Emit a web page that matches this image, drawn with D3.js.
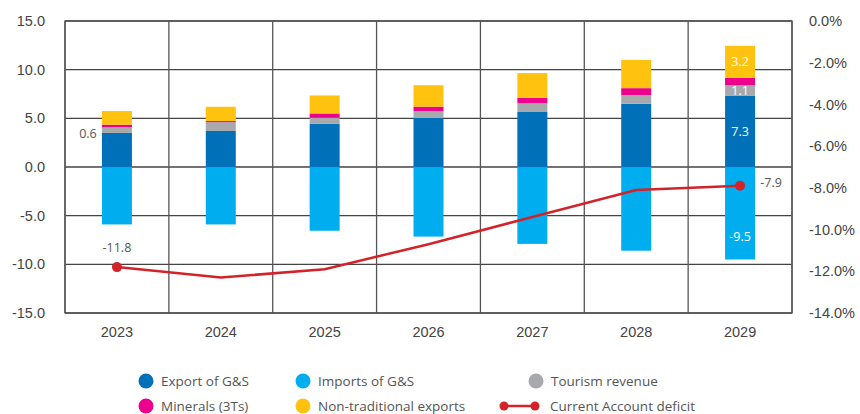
<!DOCTYPE html>
<html>
<head>
<meta charset="utf-8">
<script src="https://cdn.jsdelivr.net/npm/d3@7"></script>
<style>
  body { margin: 0; background: #fff; }
  svg { font-family: "Open Sans", "Noto Sans", sans-serif; }
</style>
</head>
<body>
<svg id="chart" width="860" height="414"></svg>
<script>
const years = ["2023", "2024", "2025", "2026", "2027", "2028", "2029"];
const exportsGS = [3.5, 3.7, 4.45, 5.05, 5.65, 6.5, 7.3];
const tourism = [0.6, 0.9, 0.6, 0.7, 0.9, 0.9, 1.1];
const minerals = [0.25, 0.12, 0.45, 0.45, 0.55, 0.7, 0.75];
const nonTrad = [1.4, 1.47, 1.85, 2.2, 2.55, 2.9, 3.3];
const importsGS = [-5.9, -5.9, -6.55, -7.15, -7.9, -8.6, -9.5];
const caDeficit = [-11.8, -12.3, -11.9, -10.7, -9.4, -8.1, -7.9];
const leftTicks = [15, 10, 5, 0, -5, -10, -15];
const rightTicks = [0, -2, -4, -6, -8, -10, -12, -14];

const colors = {
  exp: "#0070b8", imp: "#00aeef", tour: "#a7a9ac",
  min: "#ec008c", non: "#ffc20e", line: "#d2232a"
};

const margin = { top: 21, right: 68, bottom: 101, left: 65 };
const width = 860, height = 414;
const svg = d3.select("#chart");

const x = d3.scaleBand().domain(years).range([margin.left, width - margin.right]).paddingInner(0).paddingOuter(0);
const y = d3.scaleLinear().domain([-15, 15]).range([height - margin.bottom, margin.top]);
const y2 = d3.scaleLinear().domain([-14, 0]).range([height - margin.bottom, margin.top]);
const barW = 30;

// grid
const grid = svg.append("g");
grid.selectAll("line.h").data(leftTicks).enter().append("line")
  .attr("x1", margin.left).attr("x2", width - margin.right)
  .attr("y1", d => y(d)).attr("y2", d => y(d))
  .attr("stroke", "#444").attr("stroke-width", 1.3);
grid.selectAll("line.v").data(d3.range(years.length + 1)).enter().append("line")
  .attr("x1", i => margin.left + i * x.bandwidth()).attr("x2", i => margin.left + i * x.bandwidth())
  .attr("y1", margin.top).attr("y2", height - margin.bottom)
  .attr("stroke", "#555").attr("stroke-width", 1.3);

// stacked positive bars
const stackKeys = [["exp", exportsGS], ["tour", tourism], ["min", minerals], ["non", nonTrad]];
years.forEach((yr, i) => {
  let base = 0;
  stackKeys.forEach(([k, arr]) => {
    const v = arr[i];
    svg.append("rect")
      .attr("x", x(yr) + x.bandwidth() / 2 - barW / 2)
      .attr("width", barW)
      .attr("y", y(base + v))
      .attr("height", y(base) - y(base + v))
      .attr("fill", colors[k]);
    base += v;
  });
  svg.append("rect")
    .attr("x", x(yr) + x.bandwidth() / 2 - barW / 2)
    .attr("width", barW)
    .attr("y", y(0))
    .attr("height", y(importsGS[i]) - y(0))
    .attr("fill", colors.imp);
});

// axes
const fmt = d => d.toFixed(1);
const left = svg.append("g").attr("transform", `translate(${margin.left},0)`)
  .call(d3.axisLeft(y).tickValues(leftTicks).tickFormat(fmt).tickSize(0).tickPadding(20));
const right = svg.append("g").attr("transform", `translate(${width - margin.right},0)`)
  .call(d3.axisRight(y2).tickValues(rightTicks).tickFormat(d => d.toFixed(1) + "%").tickSize(0).tickPadding(17));
const bottom = svg.append("g").attr("transform", `translate(0,${height - margin.bottom})`)
  .call(d3.axisBottom(x).tickSize(0).tickPadding(14));
[left, right, bottom].forEach(g => {
  g.select(".domain").remove();
  g.selectAll("text").attr("font-size", 14.5).attr("fill", "#444");
});

// frame
svg.append("rect").attr("x", margin.left).attr("y", margin.top)
  .attr("width", width - margin.left - margin.right).attr("height", height - margin.top - margin.bottom)
  .attr("fill", "none").attr("stroke", "#555").attr("stroke-width", 1.3);

// line
const cx = i => x(years[i]) + x.bandwidth() / 2;
svg.append("path").datum(caDeficit)
  .attr("d", d3.line().x((d, i) => cx(i)).y(d => y2(d)))
  .attr("fill", "none").attr("stroke", colors.line).attr("stroke-width", 2.5);
svg.selectAll("circle.pt").data([0, years.length - 1]).enter().append("circle")
  .attr("cx", i => cx(i)).attr("cy", i => y2(caDeficit[i])).attr("r", 5)
  .attr("fill", colors.line);

// data labels
const last = years.length - 1;
const lbl = (tx, ty, t, fill) => svg.append("text").attr("x", tx).attr("y", ty)
  .attr("text-anchor", "middle").attr("dominant-baseline", "central")
  .attr("font-size", 12.5).attr("fill", fill).text(t);
lbl(x(years[0]) + x.bandwidth() / 2 - 29, y(exportsGS[0] + tourism[0] / 2) + 3, tourism[0].toFixed(1), "#555");
const bx = cx(last);
lbl(bx, y(exportsGS[last] / 2), exportsGS[last].toFixed(1), "#fff");
lbl(bx, y(exportsGS[last] + tourism[last] / 2), tourism[last].toFixed(1), "#fff");
lbl(bx, y(exportsGS[last] + tourism[last] + minerals[last] + nonTrad[last] / 2), "3.2", "#fff");
lbl(bx, y(importsGS[last] * 0.75), importsGS[last].toFixed(1), "#fff");
lbl(cx(0), y2(caDeficit[0]) - 20, caDeficit[0].toFixed(1), "#555");
lbl(cx(last) + 31, y2(caDeficit[last]) - 3, caDeficit[last].toFixed(1), "#555");

// legend
const legend = [
  { name: "Export of G&S", c: colors.exp, x: 146, y: 381 },
  { name: "Imports of G&S", c: colors.imp, x: 303, y: 381 },
  { name: "Tourism revenue", c: colors.tour, x: 536, y: 381 },
  { name: "Minerals (3Ts)", c: colors.min, x: 146, y: 406 },
  { name: "Non-traditional exports", c: colors.non, x: 303, y: 406 }
];
legend.forEach(l => {
  svg.append("circle").attr("cx", l.x).attr("cy", l.y).attr("r", 7.5).attr("fill", l.c);
  svg.append("text").attr("x", l.x + 15).attr("y", l.y).attr("dominant-baseline", "central")
    .attr("font-size", 13.5).attr("fill", "#555").text(l.name);
});
svg.append("line").attr("x1", 504).attr("x2", 535).attr("y1", 406).attr("y2", 406)
  .attr("stroke", colors.line).attr("stroke-width", 2.5);
[504, 535].forEach(px => svg.append("circle").attr("cx", px).attr("cy", 406).attr("r", 4.5).attr("fill", colors.line));
svg.append("text").attr("x", 550).attr("y", 406).attr("dominant-baseline", "central")
  .attr("font-size", 13.5).attr("fill", "#555").text("Current Account deficit");
</script>
</body>
</html>
